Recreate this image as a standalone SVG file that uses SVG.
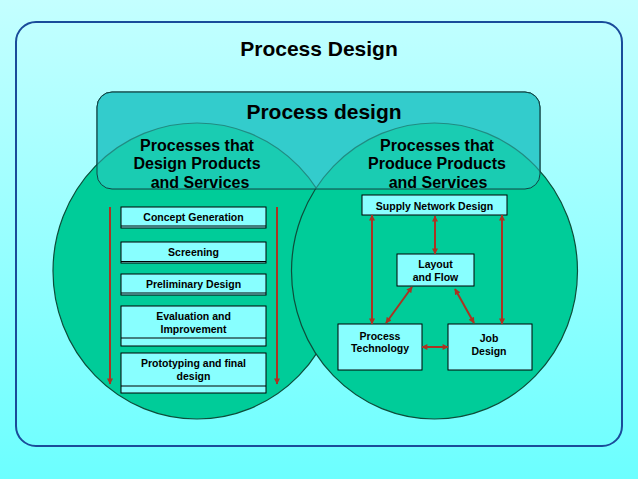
<svg xmlns="http://www.w3.org/2000/svg" width="638" height="479" viewBox="0 0 638 479">
<defs>
<linearGradient id="bg" x1="0" y1="0" x2="0" y2="1"><stop offset="0" stop-color="#c4ffff"/><stop offset="1" stop-color="#6cffff"/></linearGradient>
<marker id="ah" viewBox="0 0 10 10" refX="9" refY="5" markerWidth="7" markerHeight="6" markerUnits="userSpaceOnUse" orient="auto-start-reverse"><path d="M0,0 L10,5 L0,10 z" fill="#aa3322"/></marker>
</defs>
<style>
text{font-family:"Liberation Sans",Arial,sans-serif;font-weight:bold;fill:#000;text-anchor:middle}
.box{fill:#88ffff;stroke:#000;stroke-width:1}
.sep{stroke:#000;stroke-width:1}
.arr{stroke:#aa3322;stroke-width:2;fill:none;marker-end:url(#ah)}
.dbl{marker-start:url(#ah)}
.t{font-size:10.5px}
.h{font-size:16px}
.circ{fill:#00cc99;stroke:#0d4d3a;stroke-width:1.2}
</style>
<rect width="638" height="479" fill="url(#bg)"/>
<rect x="16" y="22" width="606" height="424" rx="20" fill="none" stroke="#1a4c9a" stroke-width="2"/>
<text x="319" y="56" style="font-size:21px">Process Design</text>
<g id="process-design">
<rect x="97" y="92" width="443" height="97" rx="15" fill="#33cccc" stroke="#114444"/>
</g>
<g id="design-circle"><ellipse class="circ" cx="197" cy="271" rx="144" ry="148"/></g>
<g id="produce-circle"><ellipse class="circ" cx="434.5" cy="271" rx="143" ry="148"/></g>
<rect x="97" y="92" width="443" height="97" rx="15" fill="#33cccc" fill-opacity="0.5" stroke="#114444"/>
<text x="324" y="119" style="font-size:21px">Process design</text>
<g id="design-header">
<text class="h" x="197" y="151">Processes that</text>
<text class="h" x="197" y="169">Design Products</text>
<text class="h" x="200" y="188">and Services</text>
</g>
<g id="produce-header">
<text class="h" x="437" y="151">Processes that</text>
<text class="h" x="437" y="169">Produce Products</text>
<text class="h" x="438" y="188">and Services</text>
</g>
<g id="concept"><rect class="box" x="121" y="207" width="145" height="21"/><line class="sep" x1="121" y1="226" x2="266" y2="226"/><text class="t" x="193.5" y="220.5">Concept Generation</text></g>
<g id="screening"><rect class="box" x="121" y="242" width="145" height="21"/><line class="sep" x1="121" y1="261.5" x2="266" y2="261.5"/><text class="t" x="193.5" y="256">Screening</text></g>
<g id="preliminary"><rect class="box" x="121" y="274" width="145" height="21"/><line class="sep" x1="121" y1="293" x2="266" y2="293"/><text class="t" x="193.5" y="288">Preliminary Design</text></g>
<g id="evaluation"><rect class="box" x="121" y="306" width="145" height="40"/><line class="sep" x1="121" y1="338" x2="266" y2="338"/><text class="t" x="193.5" y="320">Evaluation and</text><text class="t" x="193.5" y="333">Improvement</text></g>
<g id="prototyping"><rect class="box" x="121" y="353" width="145" height="40"/><line class="sep" x1="121" y1="386" x2="266" y2="386"/><text class="t" x="193.5" y="367">Prototyping and final</text><text class="t" x="193.5" y="380">design</text></g>
<g id="supply"><rect class="box" x="362" y="195" width="145" height="20"/><text class="t" x="434.5" y="210">Supply Network Design</text></g>
<g id="layout"><rect class="box" x="397" y="254" width="77" height="32"/><text class="t" x="435.5" y="268">Layout</text><text class="t" x="435.5" y="281">and Flow</text></g>
<g id="technology"><rect class="box" x="338" y="324" width="84" height="46"/><text class="t" x="380" y="339.5">Process</text><text class="t" x="380" y="351.5">Technology</text></g>
<g id="job"><rect class="box" x="448" y="324" width="84" height="46"/><text class="t" x="489" y="342">Job</text><text class="t" x="489" y="354.5">Design</text></g>
<g id="connectors">
<line class="arr" x1="110" y1="207" x2="110" y2="384"/>
<line class="arr" x1="277" y1="207" x2="277" y2="384"/>
<line class="arr dbl" x1="372" y1="215" x2="372" y2="324"/>
<line class="arr dbl" x1="435" y1="216" x2="435" y2="254"/>
<line class="arr dbl" x1="502" y1="215" x2="502" y2="324"/>
<line class="arr dbl" x1="412" y1="287" x2="386" y2="323"/>
<line class="arr dbl" x1="455" y1="289" x2="474" y2="323"/>
<line class="arr dbl" x1="422" y1="347" x2="448" y2="347"/>
</g>
</svg>
